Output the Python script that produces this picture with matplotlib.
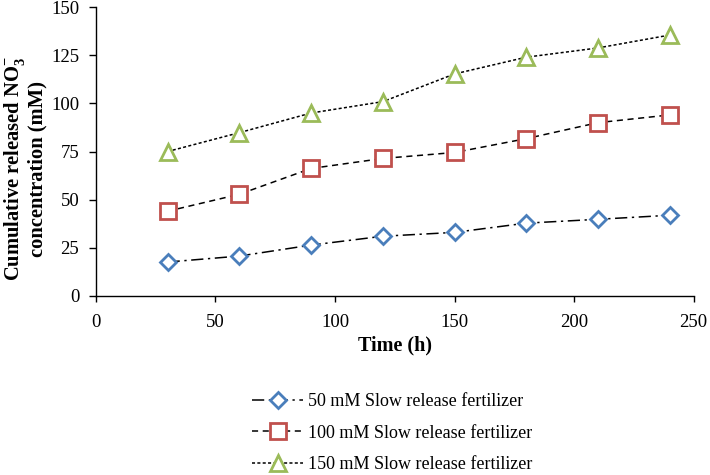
import matplotlib
matplotlib.use("Agg")
import matplotlib.pyplot as plt

time_h = [30, 60, 90, 120, 150, 180, 210, 240]
s50 = [17.6, 20.7, 26.4, 31.0, 33.0, 37.8, 39.8, 41.9]
s100 = [44.0, 52.8, 66.2, 71.4, 74.5, 81.7, 90.0, 94.0]
s150 = [75.0, 84.8, 95.0, 100.9, 115.3, 124.0, 128.8, 135.5]
labels = ["50 mM Slow release fertilizer", "100 mM Slow release fertilizer",
          "150 mM Slow release fertilizer"]
xticks = [0, 50, 100, 150, 200, 250]
yticks = [0, 25, 50, 75, 100, 125, 150]

plt.rcParams['font.family'] = ['Liberation Serif', 'DejaVu Serif']
plt.rcParams['mathtext.fontset'] = 'custom'
plt.rcParams['mathtext.rm'] = 'Liberation Serif'
plt.rcParams['mathtext.bf'] = 'Liberation Serif:bold'

fig = plt.figure(figsize=(7.1, 4.75), dpi=100)
ax = fig.add_axes([0.135, 0.377, 0.842, 0.608])

ax.plot(time_h, s50, color='black', lw=1.1, dashes=(8, 3, 1.5, 3),
        marker='D', markersize=8, markerfacecolor='white',
        markeredgecolor='#4a7ebb', markeredgewidth=2, label=labels[0])
ax.plot(time_h, s100, color='black', lw=1.1, dashes=(4, 3),
        marker='s', markersize=11, markerfacecolor='white',
        markeredgecolor='#c0504d', markeredgewidth=2, label=labels[1])
ax.plot(time_h, s150, color='black', lw=1.1, dashes=(2, 1.5),
        marker='^', markersize=12, markerfacecolor='white',
        markeredgecolor='#9bbb59', markeredgewidth=2, label=labels[2])

ax.set_xlim(0, 250)
ax.set_ylim(0, 150)
ax.set_xticks(xticks)
ax.set_yticks(yticks)
ax.tick_params(axis='x', labelsize=13.5, direction='out', length=4, width=1, pad=9)
ax.tick_params(axis='y', labelsize=13.5, direction='out', length=5, width=1, pad=7)
for s in ['top', 'right']:
    ax.spines[s].set_visible(False)
for s in ['left', 'bottom']:
    ax.spines[s].set_linewidth(1)

ax.set_xlabel("Time (h)", fontsize=14.5, fontweight='bold', labelpad=3)
ax.set_ylabel("Cumulative released NO$_\\mathbf{3}^\\mathbf{-}$\nconcentration (mM)",
              fontsize=14.8, fontweight='bold', linespacing=1.05,
              va='center', ha='center')
ax.yaxis.set_label_coords(-0.119, 0.44)

fig.legend(loc='center', bbox_to_anchor=(0.553, 0.088), frameon=False,
           fontsize=13, handlelength=2.8, labelspacing=0.8, handletextpad=0.3)

fig.savefig("out.png", dpi=100)
